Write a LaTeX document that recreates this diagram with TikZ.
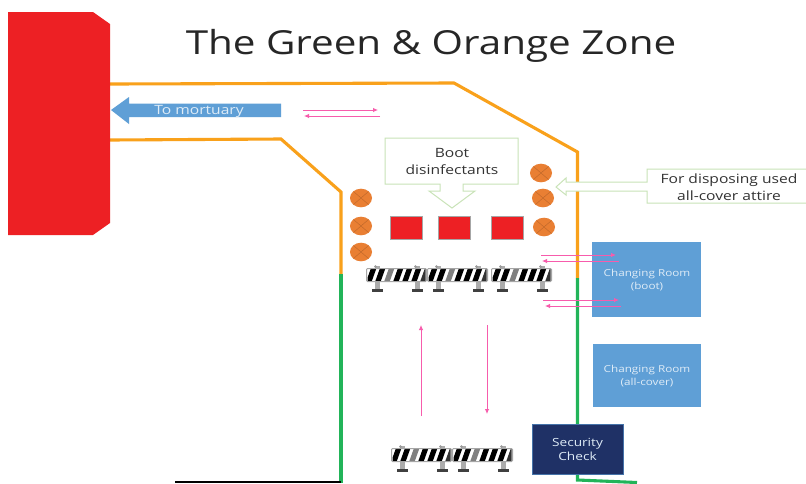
\documentclass[tikz,border=0pt]{standalone}
\usepackage{fontspec}
\setmainfont{Open Sans}[FakeStretch=1.22]
\usetikzlibrary{arrows.meta,shapes.geometric}
\definecolor{zorange}{HTML}{F9A11B}
\definecolor{zgreen}{HTML}{22B459}
\definecolor{zred}{HTML}{ED2024}
\definecolor{zblue}{HTML}{5F9FD6}
\definecolor{znavy}{HTML}{1F3166}
\definecolor{zpink}{HTML}{F75CAC}
\definecolor{zcallout}{HTML}{C9E3B8}
\definecolor{zbin}{HTML}{E97F33}
\tikzset{
  zoneline/.style={line width=3.1pt,line join=miter},
  pinkarrow/.style={draw=zpink,line width=0.9pt,-{Latex[length=5pt,width=4.5pt]}},
  callout/.style={draw=zcallout,fill=white,line width=1pt,line join=miter},
  disinf/.style={draw=gray!70,fill=zred,line width=0.6pt,minimum width=32pt,minimum height=23pt,inner sep=0pt},
  room/.style={fill=zblue,inner sep=0pt,text=white!80!zblue,font=\fontsize{9.6}{13}\selectfont,align=center},
  label/.style={inner sep=0pt,align=center,text=black!80,font=\fontsize{12.8}{17}\selectfont},
  bin/.pic={
    \fill[zbin] (0,0) ellipse [x radius=11,y radius=9.3];
    \draw[black!20!zbin,line width=0.4pt] (-7.5,-6.5) -- (7.5,6.5) (-7.5,6.5) -- (7.5,-6.5);
  },
  barrier/.pic={
    % posts and feet
    \foreach \px in {11,51} {
      \fill[gray!65] (\px-2.5,-2) rectangle (\px+2.5,21);
      \fill[black!75] (\px-5.5,21) rectangle (\px+5.5,24);
      \fill[gray!80] (\px-1.5,-1.5) circle (1.5);
    }
    \fill[white] (0,0) rectangle (61,14);
    \begin{scope}
      \clip (1.5,1.5) rectangle (59.5,12.5);
      \foreach \sx/\sc in {0/black,9/black,18/black!50,27/black,36/black,45/black,54/black!80} {
        \fill[\sc] (\sx,14) -- (\sx+5.5,14) -- (\sx+10.5,0) -- (\sx+5,0) -- cycle;
      }
    \end{scope}
    \draw[gray!70,line width=1pt,rounded corners=1pt] (0.5,0.5) rectangle (60.5,13.5);
  }
}
\begin{document}
\begin{tikzpicture}[x=1pt,y=-1pt]
\useasboundingbox (0,0) rectangle (806,483);
\fill[white] (0,0) rectangle (806,483);

% title
\node[inner sep=0pt,anchor=base,text=black!85,font=\fontsize{33.1}{40}\selectfont] (title) at (431,54) {The Green \& Orange Zone};

% boundary lines
\draw[zoneline,zorange] (110,84) -- (454,83) -- (577.5,152) -- (577.5,278);
\draw[zoneline,zgreen] (577.5,278) -- (577.5,480) -- (637,482.5);
\draw[zoneline,zorange] (110,140) -- (281,139) -- (341,192) -- (341,274);
\draw[zoneline,zgreen] (341,274) -- (341,483);
\draw[black,line width=2pt] (175,482) -- (341,482);

% mortuary block
\fill[zred] (8,12) -- (93,12) -- (110,24) -- (110,223) -- (93,235) -- (8,235) -- cycle;

% to mortuary arrow
\fill[zblue] (111,110) -- (129,97) -- (129,103.5) -- (281,103.5) -- (281,117) -- (129,117) -- (129,124) -- cycle;
\node[inner sep=0pt,anchor=base,text=white!80!zblue,font=\fontsize{12.8}{14}\selectfont] (mortuary) at (199,114.5) {To mortuary};

% boot callout
\draw[callout] (385,138) -- (518,138) -- (518,184) -- (463,184) -- (463,191) -- (475,191) -- (452,208) -- (429,191) -- (440,191) -- (440,184) -- (385,184) -- cycle;
\node[label] (boot) at (452,161) {Boot\\disinfectants};

% attire callout
\draw[callout] (806,169) -- (647,169) -- (647,182) -- (566,182) -- (566,178) -- (556,187) -- (566,195) -- (566,191) -- (647,191) -- (647,203) -- (806,203);
\node[label] (attire) at (729,187) {For disposing used\\all-cover attire};

% disinfectant squares
\node[disinf] (d1) at (406,227.5) {};
\node[disinf] (d2) at (454,227.5) {};
\node[disinf] (d3) at (507,227.5) {};

% bins
\pic at (361,198) {bin};
\pic at (361,226) {bin};
\pic at (361,252) {bin};
\pic at (541,173) {bin};
\pic at (543,198) {bin};
\pic at (544,227) {bin};

% barriers
\pic at (366,268) {barrier};
\pic at (427,268) {barrier};
\pic at (491,268) {barrier};
\pic at (391,448) {barrier};
\pic at (452,448) {barrier};

% rooms
\node[room,minimum width=109pt,minimum height=75pt] (boot room) at (646.5,279.5) {};
\node[inner sep=0pt,align=center,text=white!80!zblue,font=\fontsize{9.6}{13}\selectfont] (boot room text) at (647,280) {Changing Room\\(boot)};
\node[room,minimum width=108pt,minimum height=63pt] (cover room) at (647,375.5) {};
\node[inner sep=0pt,align=center,text=white!80!zblue,font=\fontsize{9.6}{13}\selectfont] (cover room text) at (647,376) {Changing Room\\(all-cover)};
\node[room,fill=znavy,draw=zblue!60!znavy,line width=0.5pt,minimum width=91pt,minimum height=50pt,font=\fontsize{11.2}{14}\selectfont] (security) at (577.5,449) {Security\\Check};

% pink flow arrows
\coordinate (a1) at (303,110); \coordinate (a2) at (378,110);
\coordinate (b1) at (380,116); \coordinate (b2) at (304,116);
\coordinate (c1) at (541,255); \coordinate (c2) at (616,255);
\coordinate (e1) at (619,261); \coordinate (e2) at (542,261);
\coordinate (f1) at (543,300); \coordinate (f2) at (619,300);
\coordinate (g1) at (621,306); \coordinate (g2) at (545,306);
\coordinate (h1) at (421,416); \coordinate (h2) at (421,325);
\coordinate (i1) at (487,325); \coordinate (i2) at (487,414);
\draw[pinkarrow] (a1) -- (a2);
\draw[pinkarrow] (b1) -- (b2);
\draw[pinkarrow] (c1) -- (c2);
\draw[pinkarrow] (e1) -- (e2);
\draw[pinkarrow] (f1) -- (f2);
\draw[pinkarrow] (g1) -- (g2);
\draw[pinkarrow] (h1) -- (h2);
\draw[pinkarrow] (i1) -- (i2);
\end{tikzpicture}
\end{document}
